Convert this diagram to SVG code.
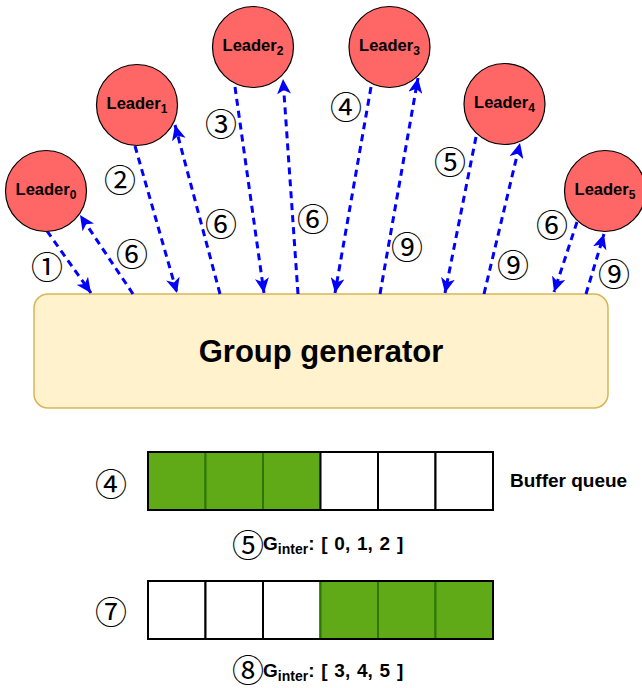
<svg xmlns="http://www.w3.org/2000/svg" width="642" height="688" viewBox="0 0 642 688">
  <style>
    .leader circle { fill: #ff6666; stroke: #000000; stroke-width: 1.2; }
    .leader text { font-family: "Liberation Sans", Arial, sans-serif; font-weight: bold; font-size: 16.5px; text-anchor: middle; fill: #000; }
    .leader .sub { font-size: 12px; }
    .edge { fill: none; stroke: #0000ff; stroke-width: 3; stroke-dasharray: 7 5; marker-end: url(#arrow); }
    .num { font-family: "Noto Sans CJK JP", "DejaVu Sans", sans-serif; font-size: 32px; text-anchor: middle; dominant-baseline: central; fill: #000; }
    .lbl { font-family: "Liberation Sans", Arial, sans-serif; font-weight: bold; fill: #000; }
    .cell-on { fill: #60a917; stroke: #2d7600; stroke-width: 2; }
    .cell-off { fill: #ffffff; stroke: #000000; stroke-width: 2; }
    .row { fill: none; stroke: #000000; stroke-width: 2; }
  </style>
  <defs>
    <marker id="arrow" markerUnits="userSpaceOnUse" markerWidth="16" markerHeight="14" viewBox="0 0 16 14" refX="15" refY="7" orient="auto">
      <path d="M0,0 L15,7 L0,14 L4,7 Z" fill="#0000ff"/>
    </marker>
  </defs>

  <!-- central generator -->
  <g id="group-generator">
    <rect x="34" y="294" width="574" height="114" rx="14" ry="14" fill="#fff2cc" stroke="#d6b656" stroke-width="1.5"/>
    <text x="321" y="362" class="lbl" font-size="31" text-anchor="middle">Group generator</text>
  </g>

  <!-- connectors -->
  <g id="connectors">
    <line class="edge" x1="47" y1="231" x2="91" y2="293"/>
    <line class="edge" x1="133" y1="294" x2="80" y2="215"/>
    <line class="edge" x1="135" y1="146" x2="177" y2="293"/>
    <line class="edge" x1="220" y1="294" x2="175" y2="125"/>
    <line class="edge" x1="235" y1="87" x2="264" y2="293"/>
    <line class="edge" x1="298" y1="294" x2="283" y2="79"/>
    <line class="edge" x1="371" y1="87" x2="335" y2="293"/>
    <line class="edge" x1="380" y1="294" x2="418" y2="78"/>
    <line class="edge" x1="476" y1="137" x2="445" y2="293"/>
    <line class="edge" x1="484" y1="294" x2="520" y2="143"/>
    <line class="edge" x1="577" y1="222" x2="554" y2="292"/>
    <line class="edge" x1="586" y1="294" x2="604" y2="234"/>
  </g>

  <!-- leaders -->
  <g id="leader0" class="leader">
    <circle cx="46" cy="191" r="40.5"/>
    <text x="46" y="195">Leader<tspan class="sub" dy="4">0</tspan></text>
  </g>
  <g id="leader1" class="leader">
    <circle cx="137" cy="105" r="40.5"/>
    <text x="137" y="109">Leader<tspan class="sub" dy="4">1</tspan></text>
  </g>
  <g id="leader2" class="leader">
    <circle cx="253" cy="47" r="40.5"/>
    <text x="253" y="51">Leader<tspan class="sub" dy="4">2</tspan></text>
  </g>
  <g id="leader3" class="leader">
    <circle cx="389.5" cy="47" r="40.5"/>
    <text x="389.5" y="51">Leader<tspan class="sub" dy="4">3</tspan></text>
  </g>
  <g id="leader4" class="leader">
    <circle cx="504.5" cy="104" r="40.5"/>
    <text x="504.5" y="108">Leader<tspan class="sub" dy="4">4</tspan></text>
  </g>
  <g id="leader5" class="leader">
    <circle cx="605" cy="191" r="40.5"/>
    <text x="605" y="195">Leader<tspan class="sub" dy="4">5</tspan></text>
  </g>

  <!-- step numbers on the connectors -->
  <g id="step-labels">
    <text class="num" x="47" y="265">①</text>
    <text class="num" x="132" y="252">⑥</text>
    <text class="num" x="120" y="178">②</text>
    <text class="num" x="221" y="222">⑥</text>
    <text class="num" x="221" y="122">③</text>
    <text class="num" x="313" y="217">⑥</text>
    <text class="num" x="346" y="105">④</text>
    <text class="num" x="407" y="245">⑨</text>
    <text class="num" x="450" y="160">⑤</text>
    <text class="num" x="513" y="263">⑨</text>
    <text class="num" x="552" y="223">⑥</text>
    <text class="num" x="614" y="272">⑨</text>
  </g>

  <!-- buffer queue, first state -->
  <g id="buffer-1">
    <text class="num" x="111" y="482">④</text>
    <rect class="cell-on" x="148" y="452" width="57.5" height="58"/>
    <rect class="cell-on" x="205.5" y="452" width="57.5" height="58"/>
    <rect class="cell-on" x="263" y="452" width="57.5" height="58"/>
    <rect class="cell-off" x="320.5" y="452" width="57.5" height="58"/>
    <rect class="cell-off" x="378" y="452" width="57.5" height="58"/>
    <rect class="cell-off" x="435.5" y="452" width="57.5" height="58"/>
    <rect class="row" x="148" y="452" width="345" height="58"/>
    <text class="lbl" x="510" y="487" font-size="19">Buffer queue</text>
  </g>
  <g id="group-1">
    <text class="num" x="248" y="543">⑤</text>
    <text class="lbl" x="263" y="550" font-size="19" word-spacing="1.5">G<tspan font-size="14" dy="4">inter</tspan><tspan dy="-4">: [ 0, 1, 2 ]</tspan></text>
  </g>

  <!-- buffer queue, second state -->
  <g id="buffer-2">
    <text class="num" x="111" y="610">⑦</text>
    <rect class="cell-off" x="148" y="581" width="57.5" height="58"/>
    <rect class="cell-off" x="205.5" y="581" width="57.5" height="58"/>
    <rect class="cell-off" x="263" y="581" width="57.5" height="58"/>
    <rect class="cell-on" x="320.5" y="581" width="57.5" height="58"/>
    <rect class="cell-on" x="378" y="581" width="57.5" height="58"/>
    <rect class="cell-on" x="435.5" y="581" width="57.5" height="58"/>
    <rect class="row" x="148" y="581" width="345" height="58"/>
  </g>
  <g id="group-2">
    <text class="num" x="248" y="668">⑧</text>
    <text class="lbl" x="263" y="677" font-size="19" word-spacing="1.5">G<tspan font-size="14" dy="4">inter</tspan><tspan dy="-4">: [ 3, 4, 5 ]</tspan></text>
  </g>
</svg>
